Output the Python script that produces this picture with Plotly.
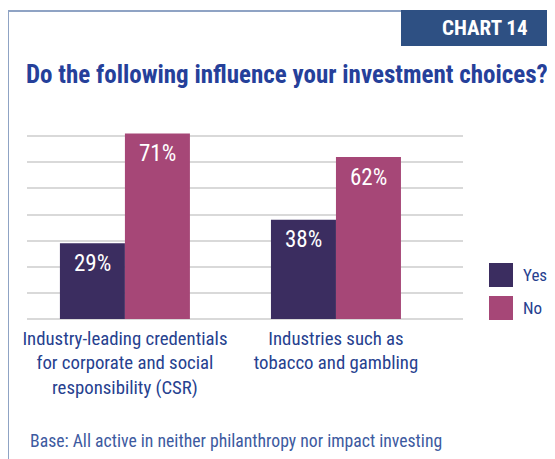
import plotly.graph_objects as go

# data
categories = ["Industry-leading credentials<br>for corporate and social<br>responsibility (CSR)",
              "Industries such as<br>tobacco and gambling"]
series_names = ["Yes", "No"]
yes_values = [29, 38]
no_values = [71, 62]
series_colors = ["#3b2d60", "#a64777"]

FONT = "Roboto Condensed, Liberation Sans Narrow, Roboto, sans-serif"
BLUE = "#26418f"

# page body has an 8px margin, so the figure is drawn 8px in from the window corner
OFF = 8
W, H = 555 - OFF, 459 - OFF
L, R, T, B = 27, 463, 131, 319   # plot area, in window pixels


def px(x):
    return (x - L) / (R - L)


def py(y):
    return (B - y) / (B - T)


fig = go.Figure()
for name, vals, col in zip(series_names, [yes_values, no_values], series_colors):
    fig.add_trace(go.Bar(x=categories, y=vals, name=name, marker_color=col,
                         marker_line_width=0, showlegend=False))

# value labels, a bit below the bar tops
bar_half = 32.5
for i, cat in enumerate(categories):
    for vals, shift in [(yes_values, -bar_half), (no_values, bar_half)]:
        fig.add_annotation(x=cat, y=vals[i], text=f"{vals[i]}%", showarrow=False,
                           xshift=shift, yshift=-20, yanchor="middle",
                           font=dict(family=FONT, size=23, color="white"))

# frame + chart tag
fig.add_shape(type="line", xref="paper", yref="paper", x0=px(8), x1=px(556), y0=py(11), y1=py(11),
              line=dict(color="#8fa3c4", width=2))
fig.add_shape(type="line", xref="paper", yref="paper", x0=px(8), x1=px(8), y0=py(11), y1=py(460),
              line=dict(color="#8fa3c4", width=2))
fig.add_shape(type="rect", xref="paper", yref="paper", x0=px(401), x1=px(556), y0=py(10), y1=py(46),
              fillcolor="#2e5083", line_width=0)
fig.add_annotation(xref="paper", yref="paper", x=px(485), y=py(28), text="<b>CHART 14</b>",
                   showarrow=False, xanchor="center", yanchor="middle",
                   font=dict(family=FONT, size=21, color="white"))

# title
fig.add_annotation(xref="paper", yref="paper", x=px(24), y=py(74),
                   text="<b>Do the following influence your investment choices?</b>",
                   showarrow=False, xanchor="left", yanchor="middle",
                   font=dict(family=FONT, size=25, color="#25409a"))

# legend drawn by hand (big squares)
for k, (name, col) in enumerate(zip(series_names, series_colors)):
    top = 263 + k * 33
    fig.add_shape(type="rect", xref="paper", yref="paper", x0=px(489), x1=px(513),
                  y0=py(top), y1=py(top + 24), fillcolor=col, line_width=0)
    fig.add_annotation(xref="paper", yref="paper", x=px(521), y=py(top + 12), text=name,
                       showarrow=False, xanchor="left", yanchor="middle",
                       font=dict(family=FONT, size=17, color=BLUE))

# base note
fig.add_annotation(xref="paper", yref="paper", x=px(28), y=py(441),
                   text="Base: All active in neither philanthropy nor impact investing",
                   showarrow=False, xanchor="left", yanchor="middle",
                   font=dict(family=FONT, size=17.7, color="#3d5aa0"))

fig.update_layout(
    width=W, height=H,
    margin=dict(l=L - OFF, r=W - (R - OFF), t=T - OFF, b=H - (B - OFF), autoexpand=False),
    paper_bgcolor="white", plot_bgcolor="white",
    barmode="group", bargap=0.384, bargroupgap=0,
    font=dict(family=FONT),
)
fig.update_xaxes(range=[-0.464, 1.602], showgrid=False, ticks="", showline=False,
                 tickangle=0, automargin=False,
                 tickfont=dict(family=FONT, size=18.8, color=BLUE), ticklabelstandoff=6)
fig.update_yaxes(range=[0, 72], dtick=10, showgrid=True, gridcolor="#d9d9d9", gridwidth=1.5,
                 showticklabels=False, automargin=False,
                 zeroline=True, zerolinecolor="#d9d9d9", zerolinewidth=1.5)

fig.write_html("out.html")
